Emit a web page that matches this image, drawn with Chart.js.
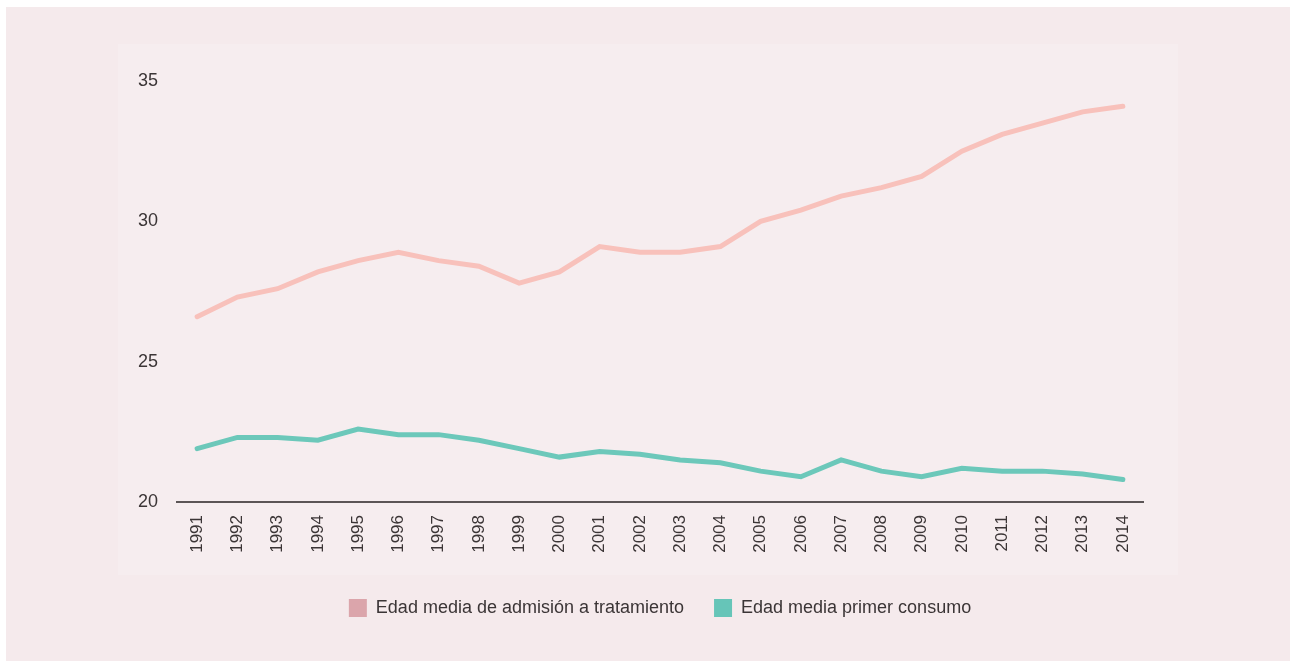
<!DOCTYPE html>
<html>
<head>
<meta charset="utf-8">
<script src="https://cdn.jsdelivr.net/npm/chart.js@4/dist/chart.umd.min.js"></script>
<style>
    body { margin: 0; background: #ffffff; width: 1290px; height: 661px; overflow: hidden; position: relative; }
    .panel-outer { position: absolute; left: 6px; top: 7px; width: 1284px; height: 654px; background: #f5eaec; }
    .panel-inner { position: absolute; left: 118px; top: 44px; width: 1060px; height: 531px; background: #f6edef; }
    #wrap { position: absolute; left: 0; top: 0; width: 1290px; height: 661px; }
</style>
</head>
<body>
<div class="panel-outer"></div>
<div class="panel-inner"></div>
<div id="wrap"><canvas id="edadChart"></canvas></div>
<script>
const years = ['1991', '1992', '1993', '1994', '1995', '1996', '1997', '1998', '1999', '2000', '2001', '2002',
    '2003', '2004', '2005', '2006', '2007', '2008', '2009', '2010', '2011', '2012', '2013', '2014'];
const edadAdmision = [26.6, 27.3, 27.6, 28.2, 28.6, 28.9, 28.6, 28.4, 27.8, 28.2, 29.1, 28.9,
    28.9, 29.1, 30.0, 30.4, 30.9, 31.2, 31.6, 32.5, 33.1, 33.5, 33.9, 34.1];
const edadPrimerConsumo = [21.9, 22.3, 22.3, 22.2, 22.6, 22.4, 22.4, 22.2, 21.9, 21.6, 21.8, 21.7,
    21.5, 21.4, 21.1, 20.9, 21.5, 21.1, 20.9, 21.2, 21.1, 21.1, 21.0, 20.8];
const yTicks = [20, 25, 30, 35];
const seriesNames = ['Edad media de admisión a tratamiento', 'Edad media primer consumo'];
const lineColors = ['#f8c1bb', '#6cc8ba'];
const legendColors = ['#dba5ab', '#66c5b8'];

const textColor = '#3b3536';
const fontFamily = '"Liberation Sans", Arial, Helvetica, sans-serif';

new Chart(document.getElementById('edadChart'), {
    type: 'line',
    data: {
        labels: years,
        datasets: [{
            label: seriesNames[0],
            data: edadAdmision,
            borderColor: lineColors[0],
            backgroundColor: legendColors[0],
            borderWidth: 5,
            borderCapStyle: 'round',
            pointRadius: 0,
            tension: 0,
            fill: false
        }, {
            label: seriesNames[1],
            data: edadPrimerConsumo,
            borderColor: lineColors[1],
            backgroundColor: legendColors[1],
            borderWidth: 5,
            borderCapStyle: 'round',
            pointRadius: 0,
            tension: 0,
            fill: false
        }]
    },
    options: {
        responsive: true,
        maintainAspectRatio: false,
        animation: false,
        layout: { padding: { left: 117, right: 147, top: 81, bottom: 34 } },
        plugins: {
            tooltip: { enabled: false },
            legend: {
                position: 'bottom',
                fullSize: false,
                labels: {
                    boxWidth: 18,
                    boxHeight: 18,
                    padding: 30,
                    color: textColor,
                    font: { family: fontFamily, size: 18 },
                    generateLabels: chart => seriesNames.map((name, i) => ({
                        text: name,
                        fillStyle: legendColors[i],
                        strokeStyle: legendColors[i],
                        lineWidth: 0,
                        fontColor: textColor,
                        datasetIndex: i
                    }))
                }
            }
        },
        scales: {
            x: {
                offset: true,
                grid: { display: false, drawTicks: false },
                border: { display: true, color: '#5c5556', width: 2 },
                ticks: {
                    minRotation: 90,
                    maxRotation: 90,
                    padding: 13,
                    color: textColor,
                    font: { family: fontFamily, size: 17 }
                },
                afterFit: scale => { scale.height = 67; }
            },
            y: {
                min: 20,
                max: 35,
                grid: { display: false, drawTicks: false },
                border: { display: false },
                afterBuildTicks: scale => { scale.ticks = yTicks.map(v => ({ value: v })); },
                ticks: {
                    padding: 19,
                    color: textColor,
                    font: { family: fontFamily, size: 18 }
                },
                afterFit: scale => { scale.width = 60; }
            }
        }
    }
});
</script>
</body>
</html>
